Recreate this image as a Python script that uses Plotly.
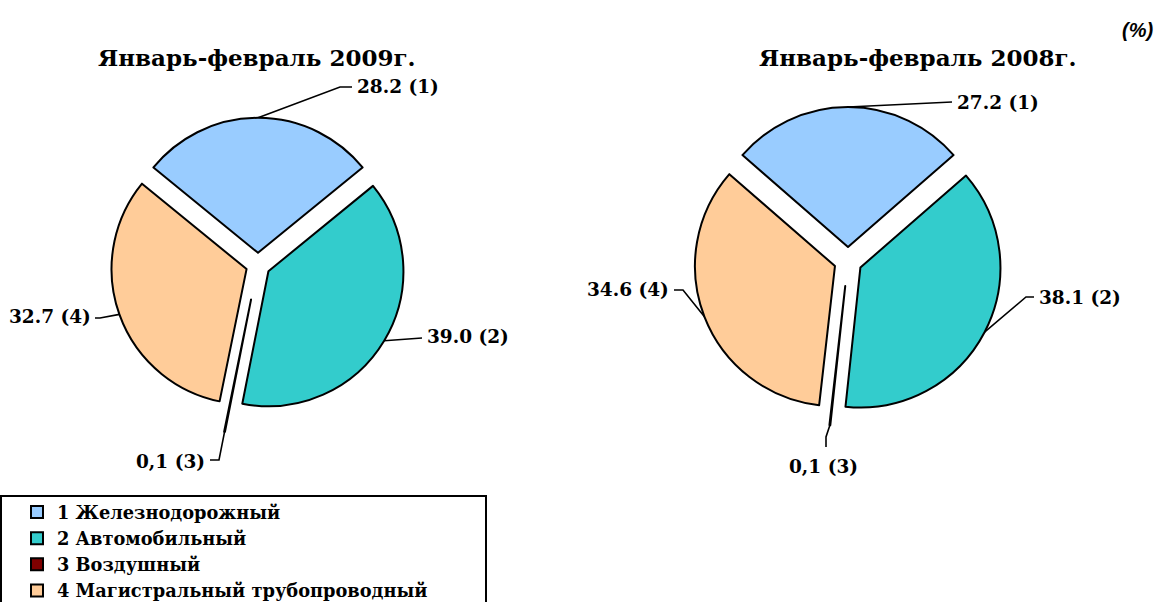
import math
import plotly.graph_objects as go

# ---------------- data ----------------
categories = ["1 Железнодорожный", "2 Автомобильный", "3 Воздушный",
              "4 Магистральный трубопроводный"]
values_2009 = [28.2, 39.0, 0.1, 32.7]
values_2008 = [27.2, 38.1, 0.1, 34.6]
labels_2009 = ["28.2 (1)", "39.0 (2)", "0,1 (3)", "32.7 (4)"]
labels_2008 = ["27.2 (1)", "38.1 (2)", "0,1 (3)", "34.6 (4)"]
titles = ["Январь-февраль 2009г.", "Январь-февраль 2008г."]
unit_text = "(%)"

# ---------------- style / layout ----------------
W, H = 1159, 602
colors = ["#99CCFF", "#33CCCC", "#800000", "#FFCC99"]
SERIF = "DejaVu Serif"

pies = [
    dict(values=values_2009, labels=labels_2009, title=titles[0],
         cx=258, cy=265, r=135, pull=[0.09, 0.09, 0.26, 0.09], title_x=257,
         # label placement: (text x, text y, xanchor, leader points after the arc point)
         lab=[(355, 86, "left", [(340, 87), (352, 87)]),
              (425, 336, "left", [(414, 338), (422, 338)]),
              (207, 461, "right", [(219, 460), (210, 460)]),
              (93, 316, "right", [(100, 318), (95, 318)])]),
    dict(values=values_2008, labels=labels_2008, title=titles[1],
         cx=848, cy=261, r=140, pull=[0.1, 0.1, 0.18, 0.1], title_x=918,
         lab=[(955, 102, "left", [(946, 102), (952, 102)]),
              (1037, 297, "left", [(1026, 297), (1034, 297)]),
              (823, 466, "center", [(826, 437), (826, 447)]),
              (671, 289, "right", [(683, 290), (674, 290)])]),
]

fig = go.Figure()
annotations = []

for k, p in enumerate(pies):
    vals = p["values"]
    total = sum(vals)
    rotation = -vals[0] / total * 360 / 2
    maxpull = max(p["pull"])
    S = 2 * p["r"] * (1 + maxpull)
    x0, x1 = (p["cx"] - S / 2) / W, (p["cx"] + S / 2) / W
    y0, y1 = 1 - (p["cy"] + S / 2) / H, 1 - (p["cy"] - S / 2) / H
    fig.add_trace(go.Pie(
        labels=categories, values=vals, sort=False, direction="clockwise",
        rotation=rotation, pull=p["pull"], textinfo="none",
        marker=dict(colors=colors, line=dict(color="black", width=2)),
        domain=dict(x=[x0, x1], y=[y0, y1]), showlegend=(k == 0),
        hovertemplate="%{label}: %{value}<extra></extra>",
    ))
    # leader lines computed from slice mid-angles
    cum = 0.0
    for i, v in enumerate(vals):
        ang = math.radians(rotation + (cum + v / 2) / total * 360)
        cum += v
        rr = p["r"] * (1 + p["pull"][i])
        ax = p["cx"] + rr * math.sin(ang)
        ay = p["cy"] - rr * math.cos(ang)
        tx, ty, anc, pts = p["lab"][i]
        xs = [ax] + [q[0] for q in pts]
        ys = [ay] + [q[1] for q in pts]
        fig.add_trace(go.Scatter(x=xs, y=ys, mode="lines",
                                 line=dict(color="black", width=1.6),
                                 hoverinfo="skip", showlegend=False,
                                 xaxis="x", yaxis="y"))
        annotations.append(dict(x=tx, y=ty, xref="x", yref="y", text="<b>" + p["labels"][i] + "</b>",
                                showarrow=False, xanchor=anc, yanchor="middle",
                                font=dict(family=SERIF, size=18.5, color="black")))
    annotations.append(dict(x=p["title_x"], y=57, xref="x", yref="y",
                            text="<b>" + p["title"] + "</b>", showarrow=False,
                            xanchor="center", yanchor="middle",
                            font=dict(family=SERIF, size=23, color="black")))

annotations.append(dict(x=1155, y=30, xref="x", yref="y",
                        text="<b><i>" + unit_text + "</i></b>", showarrow=False,
                        xanchor="right", yanchor="middle",
                        font=dict(family="Liberation Sans", size=20, color="black")))

fig.update_layout(
    width=W, height=H, margin=dict(l=0, r=0, t=0, b=0, autoexpand=False),
    paper_bgcolor="white", plot_bgcolor="rgba(0,0,0,0)",
    xaxis=dict(range=[0, W], visible=False, fixedrange=True, domain=[0, 1]),
    yaxis=dict(range=[H, 0], visible=False, fixedrange=True, domain=[0, 1]),
    annotations=annotations,
    legend=dict(x=17 / W, y=1 - 494 / H, xanchor="left", yanchor="top",
                font=dict(family=SERIF, size=17.8, color="black", weight="bold"),
                bgcolor="rgba(0,0,0,0)", borderwidth=0, traceorder="normal"),
    shapes=[dict(type="rect", xref="x", yref="y", x0=1, x1=486, y0=496, y1=640,
                 line=dict(color="black", width=2), fillcolor="rgba(0,0,0,0)",
                 layer="below")],
    showlegend=True,
)

fig.write_html("out.html", config={"displayModeBar": False},
               post_script="document.body.style.margin='0';document.body.style.padding='0';")
